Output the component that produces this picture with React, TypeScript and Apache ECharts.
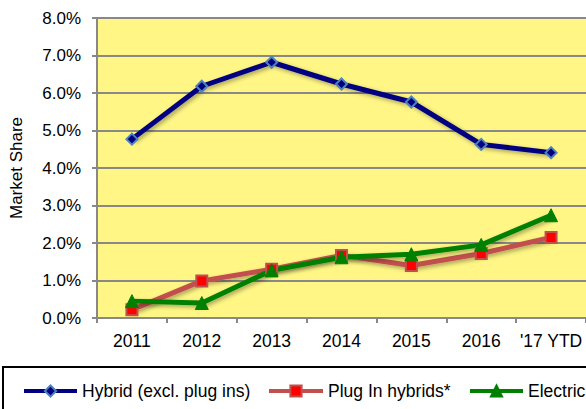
import React, { useEffect, useRef } from "react";
import * as echarts from "echarts";

const categories = ["2011", "2012", "2013", "2014", "2015", "2016", "'17 YTD"];
const hybrid = [4.77, 6.18, 6.82, 6.24, 5.76, 4.63, 4.41];
const plugIn = [0.22, 0.99, 1.3, 1.67, 1.4, 1.72, 2.15];
const electric = [0.45, 0.4, 1.27, 1.62, 1.7, 1.95, 2.74];
const yTicks = { min: 0, max: 8, interval: 1 };

const FONT = "'Liberation Sans', Arial, sans-serif";

export default function App() {
  const ref = useRef<HTMLDivElement>(null);
  useEffect(() => {
    if (!ref.current) return;
    const chart = echarts.init(ref.current, null, { renderer: "svg" });
    const shadow = { shadowBlur: 4, shadowColor: "rgba(0,0,0,0.35)", shadowOffsetX: 2, shadowOffsetY: 2 };
    const legendText = { fontFamily: FONT, fontSize: 17.5, color: "#000" };
    const legendBase = { top: 382, padding: 0, itemHeight: 14, itemGap: 5, textStyle: legendText, lineStyle: { width: 4 } };
    chart.setOption({
      animation: false,
      backgroundColor: "#fff",
      grid: {
        left: 97,
        right: 0,
        top: 18,
        height: 300,
        show: true,
        backgroundColor: "#FFF685",
        borderWidth: 0,
      },
      xAxis: {
        type: "category",
        data: categories,
        boundaryGap: true,
        axisLine: { show: true, lineStyle: { color: "#888", width: 2 } },
        axisTick: { show: true, length: 5, lineStyle: { color: "#888", width: 2 } },
        axisLabel: { interval: 0, fontFamily: FONT, fontSize: 17.5, color: "#000", margin: 14 },
      },
      yAxis: {
        type: "value",
        min: yTicks.min,
        max: yTicks.max,
        interval: yTicks.interval,
        name: "Market Share",
        nameLocation: "middle",
        nameGap: 72,
        nameTextStyle: { fontFamily: FONT, fontSize: 17, color: "#000" },
        axisLine: { show: true, lineStyle: { color: "#888", width: 2 } },
        axisTick: { show: true, length: 5, lineStyle: { color: "#888", width: 2 } },
        splitLine: { show: true, lineStyle: { color: "#888", width: 2 } },
        axisLabel: {
          fontFamily: FONT,
          fontSize: 17,
          color: "#000",
          margin: 16,
          formatter: (v: number) => v.toFixed(1) + "%",
        },
      },
      legend: [
        { ...legendBase, data: ["Hybrid (excl. plug ins)"], left: 22, itemWidth: 53 },
        { ...legendBase, data: ["Plug In hybrids*"], left: 267, itemWidth: 54 },
        { ...legendBase, data: ["Electric"], left: 468, itemWidth: 53 },
      ],
      graphic: [
        {
          type: "rect",
          shape: { x: 3, y: 367, width: 640, height: 80 },
          style: { fill: "none", stroke: "#000", lineWidth: 2 },
          z: 100,
        },
      ],
      series: [
        {
          name: "Hybrid (excl. plug ins)",
          type: "line",
          data: hybrid,
          symbol: "diamond",
          symbolSize: 11,
          lineStyle: { color: "#000080", width: 5, ...shadow },
          itemStyle: { color: "#000080", borderColor: "#4F81BD", borderWidth: 2 },
        },
        {
          name: "Plug In hybrids*",
          type: "line",
          data: plugIn,
          symbol: "rect",
          symbolSize: 11,
          lineStyle: { color: "#C0504D", width: 5, ...shadow },
          itemStyle: { color: "#FF0000", borderColor: "#C0504D", borderWidth: 2 },
        },
        {
          name: "Electric",
          type: "line",
          data: electric,
          symbol: "triangle",
          symbolSize: 13,
          lineStyle: { color: "#008000", width: 5, ...shadow },
          itemStyle: { color: "#008000", borderColor: "#008000", borderWidth: 1 },
        },
      ],
    });
    return () => chart.dispose();
  }, []);
  return (
    <div
      ref={ref}
      style={{ position: "fixed", left: 0, top: 0, width: 586, height: 409 }}
    />
  );
}
